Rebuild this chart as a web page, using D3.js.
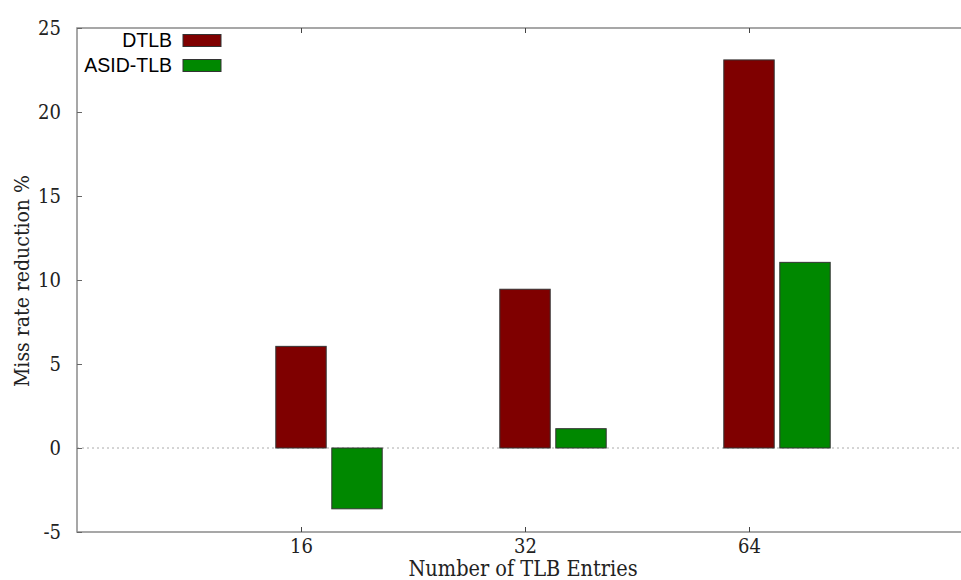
<!DOCTYPE html>
<html>
<head>
<meta charset="utf-8">
<script src="https://cdn.jsdelivr.net/npm/d3@7"></script>
<style>
  html, body { margin: 0; padding: 0; background: #fff; }
  svg { display: block; }
  .serif { font-family: "DejaVu Serif Condensed", "DejaVu Serif", serif; font-stretch: condensed; }
</style>
</head>
<body>
<svg id="chart" width="961" height="580"></svg>
<script>
// TLB miss-rate reduction by number of entries
const categories = ["16", "32", "64"];
const seriesNames = ["DTLB", "ASID-TLB"];
const dtlbValues = [6.05, 9.45, 23.1];
const asidValues = [-3.62, 1.15, 11.05];
const yTicks = [-5, 0, 5, 10, 15, 20, 25];
const seriesColors = ["#7f0000", "#008800"];

const svg = d3.select("#chart");
const plotLeft = 77, plotRight = 973, plotTop = 28, plotBottom = 532;

// categories sit on integer positions; the axis spans one slot either side
const x = d3.scaleLinear().domain([-1, 3]).range([plotLeft, plotRight]);
const y = d3.scaleLinear().domain([-5, 25]).range([plotBottom, plotTop]);

const slot = (x(1) - x(0)) / 4;   // two bars + gap per cluster
const barW = slot * 0.9;

// zero line
svg.append("line")
  .attr("x1", plotLeft).attr("x2", plotRight)
  .attr("y1", y(0)).attr("y2", y(0))
  .attr("stroke", "#aaa").attr("stroke-width", 1)
  .attr("stroke-dasharray", "2,3");

// bars
const seriesValues = [dtlbValues, asidValues];
seriesValues.forEach((vals, s) => {
  svg.append("g").selectAll("rect")
    .data(vals)
    .join("rect")
    .attr("x", (d, i) => x(i) + s * slot - barW / 2)
    .attr("width", barW)
    .attr("y", d => y(Math.max(0, d)))
    .attr("height", d => Math.abs(y(d) - y(0)))
    .attr("fill", seriesColors[s])
    .attr("stroke", "#333")
    .attr("stroke-width", 1);
});

// border (top, left, bottom)
svg.append("path")
  .attr("d", `M${plotRight},${plotTop}H${plotLeft}V${plotBottom}H${plotRight}`)
  .attr("fill", "none")
  .attr("stroke", "#8a8a8a").attr("stroke-width", 1.5);

// y axis ticks and labels (plain hyphen for negatives)
const yAxis = d3.axisLeft(y).tickValues(yTicks).tickSize(-5).tickPadding(16)
  .tickFormat(d => String(d));
const gy = svg.append("g").attr("transform", `translate(${plotLeft},0)`).call(yAxis);
gy.select(".domain").remove();
gy.selectAll(".tick line").attr("stroke", "#666");
gy.selectAll(".tick text")
  .attr("class", "serif")
  .attr("font-size", 20).attr("fill", "#222");

// x axis ticks and labels
const xAxis = d3.axisBottom(x).tickValues(d3.range(categories.length))
  .tickSize(-5).tickPadding(7).tickFormat(i => categories[i]);
const gx = svg.append("g").attr("transform", `translate(0,${plotBottom})`).call(xAxis);
gx.select(".domain").remove();
gx.selectAll(".tick line").attr("stroke", "#444");
gx.selectAll(".tick text")
  .attr("class", "serif")
  .attr("font-size", 20).attr("fill", "#222");
svg.selectAll("g").attr("font-family", null);

// mirrored ticks on the top border
const gxt = svg.append("g").attr("transform", `translate(0,${plotTop})`)
  .call(d3.axisTop(x).tickValues(d3.range(categories.length)).tickSize(-5).tickFormat(""));
gxt.select(".domain").remove();
gxt.selectAll(".tick line").attr("stroke", "#444");

// axis titles
svg.append("text")
  .attr("class", "serif")
  .attr("x", 523).attr("y", 576)
  .attr("text-anchor", "middle")
  .attr("font-size", 21.5).attr("fill", "#222")
  .text("Number of TLB Entries");
svg.append("text")
  .attr("class", "serif")
  .attr("transform", "translate(29,281) rotate(-90)")
  .attr("text-anchor", "middle")
  .attr("font-size", 21).attr("fill", "#222")
  .text("Miss rate reduction %");

// legend
const legend = svg.append("g");
seriesNames.forEach((name, s) => {
  const cy = 40.5 + s * 25;
  legend.append("text")
    .attr("x", 172).attr("y", cy + 6)
    .attr("text-anchor", "end")
    .attr("font-family", "Liberation Sans").attr("font-size", 19.5).attr("fill", "#000")
    .text(name);
  legend.append("rect")
    .attr("x", 183).attr("y", cy - 6).attr("width", 38).attr("height", 12)
    .attr("fill", seriesColors[s]).attr("stroke", "#333").attr("stroke-width", 1);
});
</script>
</body>
</html>
